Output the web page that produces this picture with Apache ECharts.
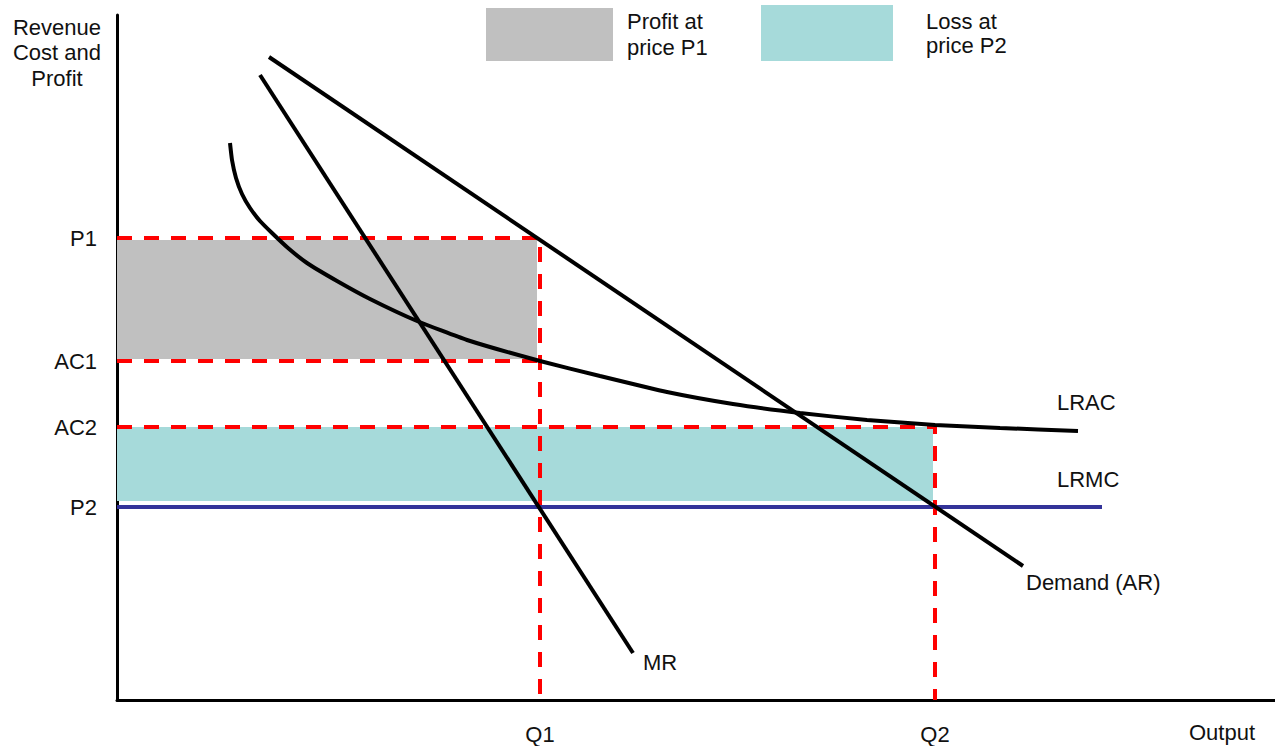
<!DOCTYPE html>
<html>
<head>
<meta charset="utf-8">
<script src="https://cdn.jsdelivr.net/npm/echarts@6.0.0/dist/echarts.min.js"></script>
<style>
html,body{margin:0;padding:0;background:#fff;}
#chart{width:1275px;height:746px;}
</style>
</head>
<body>
<div id="chart"></div>
<script>
// ---- data (abstract units) ----
const xMax = 115.8;
const yMax = 68.5;

const P1 = 46.2, AC1 = 33.9, AC2 = 27.3, P2 = 19.3;
const Q1 = 42.3, Q2 = 81.8;

const priceTicks = [P1, AC1, AC2, P2];
const priceTickLabels = ['P1', 'AC1', 'AC2', 'P2'];
const qtyTicks = [Q1, Q2];
const qtyTickLabels = ['Q1', 'Q2'];

const demandAR = [[15.2, 64.3], [90.6, 13.4]];
const marginalRevenue = [[14.3, 62.5], [51.6, 4.7]];
const lrac = [
  [11.3, 55.7], [11.5, 54.0], [11.9, 52.2], [12.5, 50.6], [13.3, 49.2],
  [14.3, 47.9], [15.5, 46.7], [17.1, 45.2], [19.0, 43.7], [22.0, 41.9],
  [25.3, 40.1], [30.0, 37.9], [35.0, 36.0], [42.3, 33.9], [48.3, 32.4],
  [55.0, 30.8], [61.6, 29.6], [68.3, 28.7], [75.0, 28.0], [81.8, 27.5],
  [88.3, 27.2], [96.1, 26.9]
];
const lrmc = [[0, P2], [98.5, P2]];

// shaded rectangles: [xStart, xEnd, yLow, yHigh]
const profitArea = [[0, 42.0, 34.1, 46.0]];
const lossArea = [[0, 81.6, 19.9, 27.3]];

// dashed guide lines
const guideP1Q1 = [[0, P1], [Q1, P1], [Q1, 0]];
const guideAC1 = [[0, AC1], [Q1, AC1]];
const guideAC2Q2 = [[0, AC2], [Q2, AC2], [Q2, 0]];

// ---- chart ----
const FONT = '"Liberation Sans", Arial, sans-serif';
const TXT = '#111';

function rectItem(params, api) {
  const a = api.coord([api.value(0), api.value(3)]);
  const b = api.coord([api.value(1), api.value(2)]);
  return {
    type: 'rect',
    shape: { x: a[0], y: a[1], width: b[0] - a[0], height: b[1] - a[1] },
    style: { fill: api.visual('color') }
  };
}

const guideStyle = { color: '#ff0000', width: 4, type: [15, 12], cap: 'butt' };
function guide(data) {
  return {
    type: 'line', data: data, symbol: 'none', z: 3, silent: true,
    lineStyle: guideStyle, animation: false
  };
}
function curve(name, data, color, labelOffset, extra) {
  return Object.assign({
    type: 'line', name: name, data: data, symbol: 'none', z: 5, silent: true,
    animation: false,
    lineStyle: { color: color, width: 4, cap: 'butt' },
    endLabel: {
      show: true, formatter: name, distance: 5, offset: labelOffset,
      color: TXT, fontSize: 22, fontFamily: FONT
    }
  }, extra || {});
}

const chart = echarts.init(document.getElementById('chart'), null, { renderer: 'svg' });
chart.setOption({
  animation: false,
  backgroundColor: '#fff',
  grid: { left: 117, right: 0, top: 15, bottom: 46, containLabel: false, outerBoundsMode: 'none' },
  legend: [
    {
      data: ['Profit at\nprice P1'], left: 486, top: 2.5, padding: 0,
      itemWidth: 127, itemHeight: 53, icon: 'rect', selectedMode: false,
      textStyle: { fontSize: 22, lineHeight: 26, color: TXT, fontFamily: FONT, padding: [0, 0, 12, 9] }
    },
    {
      data: ['Loss at\nprice P2'], left: 761, top: 5, padding: 0,
      itemWidth: 132, itemHeight: 56, icon: 'rect', selectedMode: false,
      textStyle: { fontSize: 22, lineHeight: 24, color: TXT, fontFamily: FONT, padding: [0, 0, 8, 28] }
    }
  ],
  graphic: [
    {
      type: 'text', x: 57, y: 14.5, silent: true,
      style: {
        text: 'Revenue\nCost and\nProfit', align: 'center', verticalAlign: 'top',
        font: '22px ' + FONT, lineHeight: 25.5, fill: TXT
      }
    }
  ],
  xAxis: {
    type: 'value', min: 0, max: xMax,
    name: 'Output', nameLocation: 'end', nameGap: -86,
    nameTextStyle: { fontSize: 22, color: TXT, fontFamily: FONT, verticalAlign: 'top', lineHeight: 64 },
    axisLine: { show: true, onZero: false, lineStyle: { color: '#000', width: 3 } },
    axisTick: { show: false },
    splitLine: { show: false },
    axisLabel: {
      show: true, customValues: qtyTicks, margin: 23,
      fontSize: 22, color: TXT, fontFamily: FONT,
      formatter: function (v) {
        const i = qtyTicks.findIndex(t => Math.abs(t - v) < 1e-6);
        return i >= 0 ? qtyTickLabels[i] : '';
      }
    }
  },
  yAxis: {
    type: 'value', min: 0, max: yMax,
    axisLine: { show: true, onZero: false, lineStyle: { color: '#000', width: 3 } },
    axisTick: { show: false },
    splitLine: { show: false },
    axisLabel: {
      show: true, customValues: priceTicks, margin: 20,
      fontSize: 22, color: TXT, fontFamily: FONT,
      formatter: function (v) {
        const i = priceTicks.findIndex(t => Math.abs(t - v) < 1e-6);
        return i >= 0 ? priceTickLabels[i] : '';
      }
    }
  },
  series: [
    {
      type: 'custom', name: 'Profit at\nprice P1', data: profitArea, z: 1, silent: true,
      renderItem: rectItem, encode: { x: [0, 1], y: [2, 3] },
      itemStyle: { color: '#c0c0c0' }
    },
    {
      type: 'custom', name: 'Loss at\nprice P2', data: lossArea, z: 1, silent: true,
      renderItem: rectItem, encode: { x: [0, 1], y: [2, 3] },
      itemStyle: { color: '#a6dada' }
    },
    curve('LRMC', lrmc, '#333399', [-50, -28], { z: 2 }),
    guide(guideP1Q1),
    guide(guideAC1),
    guide(guideAC2Q2),
    curve('LRAC', lrac, '#000', [-26, -29], { smooth: 0.15 }),
    curve('MR', marginalRevenue, '#000', [5, 9]),
    curve('Demand (AR)', demandAR, '#000', [-2, 16])
  ]
});
</script>
</body>
</html>
